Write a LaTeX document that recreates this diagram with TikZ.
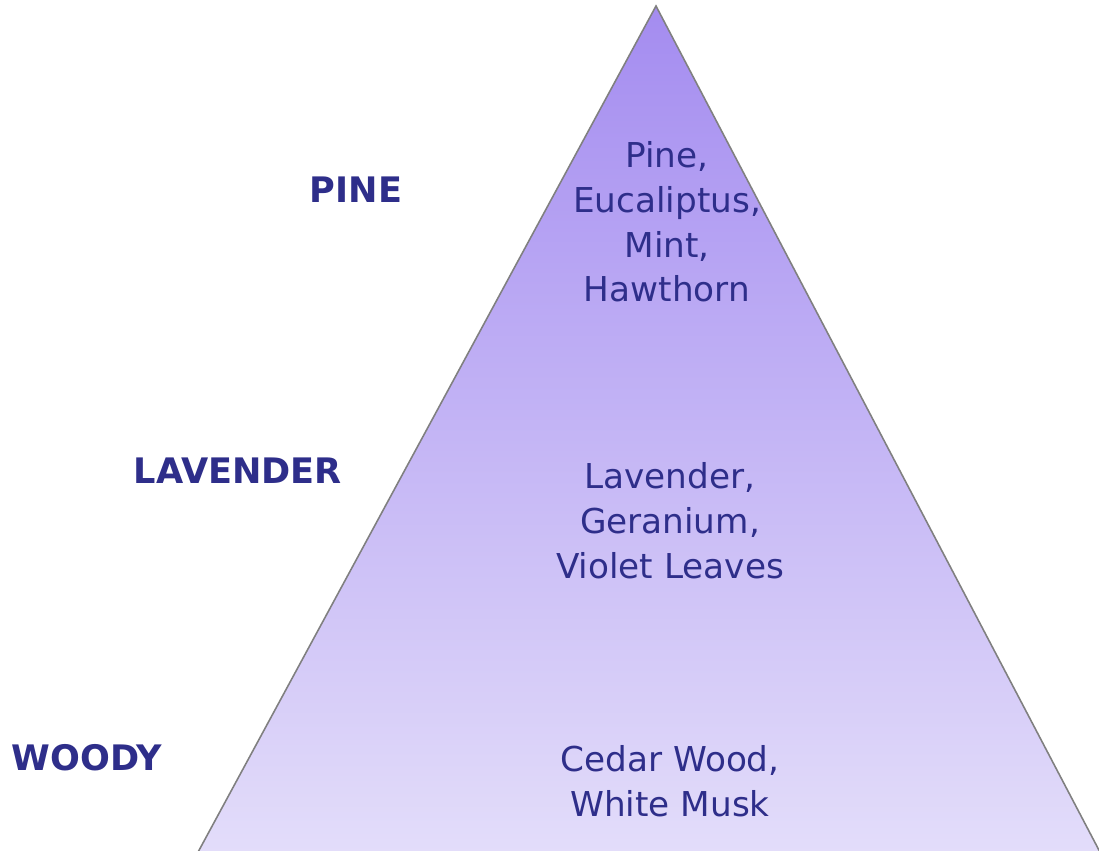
\documentclass[tikz,border=0pt]{standalone}
\usepackage{fontspec}
\setmainfont{DejaVu Sans}
\usepackage{xcolor}
\usepackage{tikz}
\usetikzlibrary{positioning}
\definecolor{navy}{HTML}{2E2E8A}
\definecolor{lilactop}{HTML}{A48CF0}
\definecolor{lilacbot}{HTML}{E3DDFA}
\definecolor{edgegray}{HTML}{808080}
\tikzset{
  notelabel/.style={
    font=\fontsize{20}{25}\selectfont\bfseries, text=navy,
    inner sep=0pt
  },
  notelist/.style={
    font=\fontsize{19.5}{25.5}\selectfont, text=navy,
    align=center, inner sep=0pt
  },
}

\begin{document}
\begin{tikzpicture}[x=0.02cm, y=-0.02cm]
  \clip (0,0) rectangle (1099,850);

  % Pyramid
  \shade[top color=lilactop, bottom color=lilacbot, draw=edgegray, line width=0.9pt]
    (656,6) -- (1101,854) -- (197,854) -- cycle;

  % Labels
  \node[notelabel] (pine_lbl) at (356,190) {PINE};
  \node[notelabel] (lav_lbl) at (238,471) {LAVENDER};
  \node[notelabel] (wood_lbl) at (87,758) {WOODY};

  % Notes
  \node[notelist] (pine_notes) at (667,222) {Pine,\\Eucaliptus,\\Mint,\\Hawthorn};
  \node[notelist] (lav_notes) at (670,521) {Lavender,\\Geranium,\\Violet Leaves};
  \node[notelist] (wood_notes) at (670,781) {Cedar Wood,\\White Musk};
\end{tikzpicture}
\end{document}
